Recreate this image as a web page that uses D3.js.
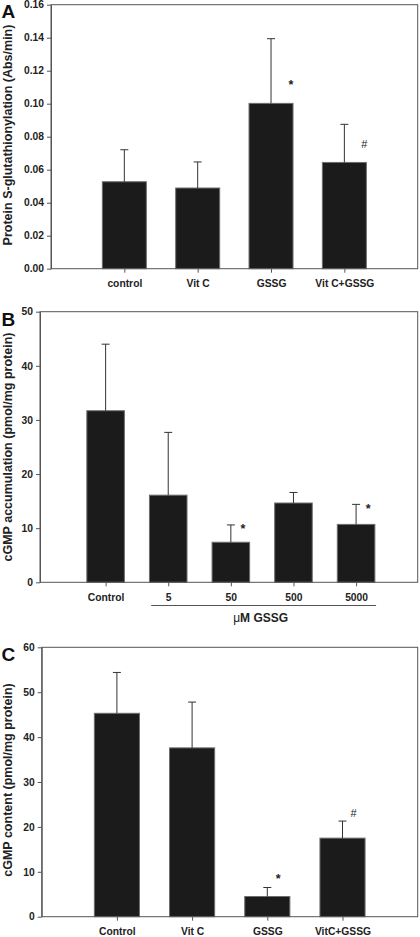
<!DOCTYPE html>
<html>
<head>
<meta charset="utf-8">
<script src="https://cdn.jsdelivr.net/npm/d3@7"></script>
<style>
  html, body { margin: 0; padding: 0; background: #fff; }
  svg { display: block; }
  text { font-family: "Liberation Sans", Arial, Helvetica, sans-serif; }
</style>
</head>
<body>
<svg id="chart" width="420" height="937"></svg>
<script>
// ---------------- Panel A data ----------------
const catsA   = ["control", "Vit C", "GSSG", "Vit C+GSSG"];
const meanA   = [0.0527, 0.0489, 0.1002, 0.0644];
const errA    = [0.0194, 0.0158, 0.0392, 0.0231];
const marksA  = ["", "", "*", "#"];
const markYA  = [null, null, 0.109, 0.073];
const ticksA  = [0, 0.02, 0.04, 0.06, 0.08, 0.10, 0.12, 0.14, 0.16];
const tickLabelsA = ["0.00", "0.02", "0.04", "0.06", "0.08", "0.10", "0.12", "0.14", "0.16"];
const yLabelA = "Protein S-glutathionylation (Abs/min)";

// ---------------- Panel B data ----------------
const catsB   = ["Control", "5", "50", "500", "5000"];
const meanB   = [31.7, 16.1, 7.4, 14.65, 10.7];
const errB    = [12.3, 11.6, 3.2, 1.95, 3.7];
const marksB  = ["", "", "*", "", "*"];
const markYB  = [null, null, 9.1, null, 12.8];
const ticksB  = [0, 10, 20, 30, 40, 50];
const tickLabelsB = ["0", "10", "20", "30", "40", "50"];
const yLabelB = "cGMP accumulation (pmol/mg protein)";
const groupLabelB = "\u03BCM GSSG";

// ---------------- Panel C data ----------------
const catsC   = ["Control", "Vit C", "GSSG", "VitC+GSSG"];
const meanC   = [45.3, 37.6, 4.5, 17.5];
const errC    = [9.1, 10.2, 2.0, 3.8];
const marksC  = ["", "", "*", "#"];
const markYC  = [null, null, 7.5, 22.1];
const ticksC  = [0, 10, 20, 30, 40, 50, 60];
const tickLabelsC = ["0", "10", "20", "30", "40", "50", "60"];
const yLabelC = "cGMP content (pmol/mg protein)";

const svg = d3.select("#chart");

function drawPanel(o) {
  const g = svg.append("g");
  const x = d3.scalePoint().domain(o.cats).range([o.x0 + o.rx0, o.x1 + o.rx1]).padding(1);
  const y = d3.scaleLinear().domain([o.ticks[0], o.ticks[o.ticks.length - 1]]).range([o.y1, o.y0]);
  const bw = x.step() * 0.6;

  // bars
  g.selectAll("rect.bar").data(o.cats).enter().append("rect")
    .attr("x", d => x(d) - bw / 2)
    .attr("y", (d, i) => y(o.mean[i]))
    .attr("width", bw)
    .attr("height", (d, i) => y(0) - y(o.mean[i]))
    .attr("fill", "#1b1b1b")
    .attr("stroke", "#6e6e6e")
    .attr("stroke-width", 1);

  // error bars (upper only)
  const eb = g.selectAll("g.err").data(o.cats).enter().append("g").attr("stroke", "#333").attr("stroke-width", 1);
  eb.append("line")
    .attr("x1", d => x(d)).attr("x2", d => x(d))
    .attr("y1", (d, i) => y(o.mean[i]))
    .attr("y2", (d, i) => y(o.mean[i] + o.err[i]));
  eb.append("line")
    .attr("x1", d => x(d) - 4).attr("x2", d => x(d) + 4)
    .attr("y1", (d, i) => y(o.mean[i] + o.err[i]))
    .attr("y2", (d, i) => y(o.mean[i] + o.err[i]));

  // significance marks
  g.selectAll("text.mark").data(o.cats).enter().append("text")
    .filter((d, i) => o.marks[i] !== "")
    .attr("x", d => x(d) + o.markDx)
    .attr("y", d => y(o.markY[o.cats.indexOf(d)]))
    .attr("text-anchor", "middle")
    .attr("font-size", d => o.marks[o.cats.indexOf(d)] === "#" ? 11 : 12.5)
    .attr("font-weight", d => o.marks[o.cats.indexOf(d)] === "#" ? "normal" : "bold")
    .attr("fill", "#222")
    .text(d => o.marks[o.cats.indexOf(d)]);

  // frame
  g.append("rect")
    .attr("x", o.x0).attr("y", o.y0)
    .attr("width", o.x1 - o.x0).attr("height", o.y1 - o.y0)
    .attr("fill", "none").attr("stroke", "#555").attr("stroke-width", 1);

  // y axis
  const ya = g.append("g").attr("transform", `translate(${o.x0},0)`)
    .call(d3.axisLeft(y).tickValues(o.ticks).tickFormat((d, i) => o.tickLabels[i])
      .tickSize(4).tickSizeOuter(0).tickPadding(3));
  ya.select(".domain").attr("stroke", "#555");
  ya.selectAll(".tick line").attr("stroke", "#555");
  ya.selectAll(".tick text").attr("font-size", 10.3).attr("font-weight", "bold")
    .attr("fill", "#222").attr("font-family", null);

  // x axis
  const xa = g.append("g").attr("transform", `translate(0,${o.y1})`)
    .call(d3.axisBottom(x).tickSize(4).tickSizeOuter(0).tickPadding(7));
  xa.select(".domain").remove();
  xa.selectAll(".tick line").attr("stroke", "#555");
  xa.selectAll(".tick text").attr("font-size", 10.3).attr("font-weight", "bold")
    .attr("fill", "#222").attr("font-family", null);

  // y label
  g.append("text")
    .attr("transform", `translate(11.5,${o.yLabelC}) rotate(-90)`)
    .attr("text-anchor", "middle")
    .attr("font-size", 12.5).attr("font-weight", "bold").attr("fill", "#222")
    .text(o.yLabel);

  // panel letter
  g.append("text")
    .attr("x", 1.5).attr("y", o.letterY)
    .attr("font-size", 19).attr("font-weight", "bold").attr("fill", "#111")
    .text(o.letter);

  return { x, y };
}

drawPanel({ cats: catsA, mean: meanA, err: errA, marks: marksA, markY: markYA,
  ticks: ticksA, tickLabels: tickLabelsA, yLabel: yLabelA,
  x0: 51, x1: 417.7, y0: 4.7, y1: 268.7, rx0: 0, rx1: 0, markDx: 20,
  yLabelC: 135, letter: "A", letterY: 18 });

const pB = drawPanel({ cats: catsB, mean: meanB, err: errB, marks: marksB, markY: markYB,
  ticks: ticksB, tickLabels: tickLabelsB, yLabel: yLabelB,
  x0: 40, x1: 417.7, y0: 311.7, y1: 582.3, rx0: 3, rx1: 1, markDx: 12,
  yLabelC: 447, letter: "B", letterY: 325.5 });

// group line and label under 5..5000 in panel B
const gx0 = pB.x(catsB[1]) - 17, gx1 = pB.x(catsB[catsB.length - 1]) + 20;
svg.append("line").attr("x1", gx0).attr("x2", gx1).attr("y1", 605.5).attr("y2", 605.5)
  .attr("stroke", "#555").attr("stroke-width", 1);
const gl = svg.append("text").attr("x", (gx0 + gx1) / 2 - 3).attr("y", 622)
  .attr("text-anchor", "middle").attr("font-size", 12).attr("font-weight", "bold").attr("fill", "#222");
gl.append("tspan").attr("font-weight", "normal").text(groupLabelB.slice(0, 1));
gl.append("tspan").text(groupLabelB.slice(1));

drawPanel({ cats: catsC, mean: meanC, err: errC, marks: marksC, markY: markYC,
  ticks: ticksC, tickLabels: tickLabelsC, yLabel: yLabelC,
  x0: 41.7, x1: 417.7, y0: 647.3, y1: 916.7, rx0: 0, rx1: 0, markDx: 11,
  yLabelC: 780, letter: "C", letterY: 660.5 });
</script>
</body>
</html>
